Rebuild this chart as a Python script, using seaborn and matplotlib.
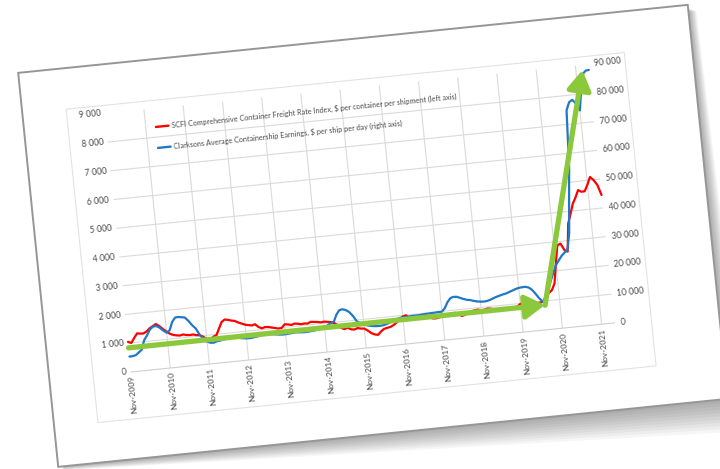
import numpy as np
import pandas as pd
import matplotlib
matplotlib.use("Agg")
import matplotlib.pyplot as plt
import matplotlib.dates as mdates
import seaborn as sns
from matplotlib.transforms import Affine2D
from matplotlib.patches import Polygon, Rectangle
from matplotlib.lines import Line2D
from mpl_toolkits.axisartist import floating_axes
from mpl_toolkits.axisartist.grid_finder import FixedLocator, DictFormatter

# --- values: monthly, Nov-2009 .. Mar-2022 ---
first_month = "2009-11-01"

# SCFI Comprehensive Container Freight Rate Index, $ per container (left axis)
scfi = [
    1050, 1000, 1160, 1310, 1290, 1285, 1340, 1440, 1500, 1565, 1480, 1370,
    1265, 1180, 1125, 1100, 1085, 1110, 1080, 1065, 1075, 1040, 1030, 960,
    870, 830, 925, 970, 1185, 1405, 1480, 1455, 1420, 1395, 1330, 1280,
    1230, 1205, 1180, 1210, 1110, 1045, 1080, 1070, 1040, 1010, 980, 990,
    1105, 1090, 1060, 1095, 1080, 1050, 1065, 1050, 1100, 1085, 1070, 1045,
    1060, 1040, 1020, 975, 900, 790, 730, 770, 700, 680, 720, 690,
    680, 600, 500, 440, 415, 520, 600, 625, 645, 700, 780, 880,
    960, 990, 900, 860, 880, 890, 930, 920, 870, 790, 780, 800,
    830, 820, 850, 880, 905, 850, 770, 800, 860, 900, 920, 935,
    900, 910, 940, 920, 880, 850, 830, 845, 855, 860, 875, 900,
    980, 1010, 1040, 980, 950, 940, 960, 980, 1140, 1260, 1350, 1570,
    2250, 2870, 2920, 2680, 2620, 3580, 3900, 4250, 4450, 4700, 4630, 4640,
    4860, 5110, 4990, 4800, 4450,
]

# Clarksons Average Containership Earnings, $ per ship per day (right axis)
clarksons = [
    5360, 5400, 5650, 6500, 7300, 10500, 12000, 13900, 14800, 15000, 14300, 13200,
    12300, 13000, 15800, 17200, 17300, 17100, 16900, 15600, 14000, 12700, 10300, 8900,
    7800, 7300, 7200, 7600, 7700, 7900, 8100, 8300, 8400, 8200, 7900, 7700,
    7550, 7500, 7600, 7800, 7900, 8200, 8550, 8400, 8100, 7900, 7700, 7600,
    7600, 7700, 7800, 7900, 7800, 7700, 7650, 7700, 7800, 7900, 8100, 8300,
    8700, 9200, 9800, 10300, 12500, 14000, 14200, 13800, 13000, 11500, 9500, 8750,
    8200, 7800, 7500, 7300, 7200, 7200, 7300, 7600, 8000, 8500, 8900, 9200,
    9300, 9300, 9400, 9500, 9500, 9500, 9600, 9700, 9700, 9800, 9800, 9900,
    9900, 11000, 13000, 14300, 14600, 14500, 14000, 13500, 13100, 12900, 12500, 12200,
    12000, 11900, 12000, 12300, 12700, 13100, 13400, 13700, 13900, 14300, 14700, 15100,
    15400, 15500, 15550, 15200, 14300, 12700, 11000, 9800, 11400, 14000, 16900, 19500,
    22000, 23500, 25000, 26000, 26800, 32400, 43800, 55000, 74900, 77600, 78300, 76900,
    74400, 81300, 86900, 87900, 88000,
]

tick_years = list(range(2009, 2022))
tick_labels = [f"Nov-{y}" for y in tick_years]
left_ticks = list(range(0, 9001, 1000))
right_ticks = list(range(0, 90001, 10000))

legend_labels = [
    "SCFI Comprehensive Container Freight Rate Index, $ per container per shipment (left axis)",
    "Clarksons Average Containership Earnings, $ per ship per day (right axis)",
]

# green arrows drawn over the chart (date, value on the left axis)
arrow_flat_dates = ["2009-11-01", "2020-06-15"]
arrow_flat_vals = [840, 860]
arrow_up_dates = ["2020-06-15", "2022-01-01"]
arrow_up_vals = [850, 8820]

RED = "#ff0000"
BLUE = "#1f78c8"
GREEN = "#8cc83c"
TXT = "#4a4a4a"
GRID = "#dadada"

# --- layout: the chart sits on a tilted sheet of paper ---
FIG_W, FIG_H = 720, 469
ANGLE = 5.8          # tilt of the page, degrees
PW, PH = 486, 260    # plot area size in pixels
BL = (131, 97)       # bottom-left corner of plot area (pixels, y up)

sns.set_style("white")
plt.rcParams["font.family"] = ["Lato", "DejaVu Sans"]

dates = pd.date_range(first_month, periods=len(scfi), freq="MS")
x = mdates.date2num(dates)
xmin, xmax = x[0], x[-1]
xticks = list(mdates.date2num(pd.to_datetime([f"{y}-11-01" for y in tick_years])))

fig = plt.figure(figsize=(FIG_W / 100, FIG_H / 100), dpi=100, facecolor="white")

# background: paper sheet with a soft shadow
bg = fig.add_axes([0, 0, 1, 1], zorder=-5)
bg.set_xlim(0, FIG_W)
bg.set_ylim(0, FIG_H)
bg.axis("off")
page_tr = Affine2D().rotate_deg(ANGLE).translate(*BL) + bg.transData
for f in np.linspace(1.0, 0.1, 10):
    shadow = Polygon([(-80, 300), (591 + 8 * f, 306 - 4 * f), (591 + 16 * f, -87 - 34 * f),
                      (-80 + 4 * f, -87 - 4 * f)], closed=True, facecolor="black",
                     edgecolor="none", alpha=0.035, transform=page_tr)
    bg.add_patch(shadow)
bg.add_patch(Rectangle((-82, -87), 673, 396, facecolor="white", edgecolor="#969696",
                       lw=1.4, transform=page_tr))
bg.add_patch(Rectangle((-38, -47), 561, 315, facecolor="none", edgecolor="#e2e2e2",
                       lw=0.8, transform=page_tr))

# rotated plot area: host axes box = bounding box of the tilted rectangle
c, s = np.cos(np.radians(ANGLE)), np.sin(np.radians(ANGLE))
corners = np.array([[0, 0], [PW * c, PW * s], [-PH * s, PH * c],
                    [PW * c - PH * s, PW * s + PH * c]]) + np.array(BL)
lo, hi = corners.min(0), corners.max(0)
cx, cy = (lo + hi) / 2
bw, bh = (hi - lo) * 1.02
rect = [(cx - bw / 2) / FIG_W, (cy - bh / 2) / FIG_H, bw / FIG_W, bh / FIG_H]

tr = Affine2D().translate(-xmin, 0).scale(PW / (xmax - xmin), PH / 9000).rotate_deg(ANGLE)
gh1 = floating_axes.GridHelperCurveLinear(
    tr, extremes=(xmin, xmax, 0, 9000),
    grid_locator1=FixedLocator(xticks),
    tick_formatter1=DictFormatter(dict(zip(xticks, tick_labels))),
    grid_locator2=FixedLocator(left_ticks),
    tick_formatter2=DictFormatter({v: f"{v:,}".replace(",", " ") for v in left_ticks}))
ax = fig.add_axes(rect, axes_class=floating_axes.FloatingAxes, grid_helper=gh1)
ax.patch.set_facecolor("white")
ax.grid(True, color=GRID, linewidth=0.8)
aux = ax.get_aux_axes(tr)

for side in ["left", "right", "top", "bottom"]:
    ax.axis[side].major_ticks.set_visible(False)
    ax.axis[side].line.set_visible(side == "bottom")
ax.axis["bottom"].line.set_color("#cfcfcf")
lt = ax.axis["left"].major_ticklabels
lt.set_fontsize(6.2)
lt.set_color(TXT)
lt.set_pad(3)
bt = ax.axis["bottom"].major_ticklabels
bt.set_fontsize(6.0)
bt.set_color(TXT)
bt.set_rotation(90)
bt.set_ha("right")
bt.set_va("center")
bt.set_pad(0.5)

sns.lineplot(x=x, y=scfi, ax=aux, color=RED, linewidth=1.6, errorbar=None, legend=False)

# legend, drawn in plot-fraction coordinates of the tilted frame
frac = Affine2D().scale(xmax - xmin, 9000).translate(xmin, 0) + aux.transData
ax.add_patch(Rectangle((0.075, 0.80), 0.68, 0.18, facecolor="white", edgecolor="none",
                       transform=frac, zorder=1.5))
for fy, col, lab in zip([0.928, 0.847], [RED, BLUE], legend_labels):
    ax.add_line(Line2D([0.102, 0.128], [fy, fy], color=col, lw=1.7, transform=frac, zorder=3))
    ax.text(0.134, fy, lab, transform=frac, rotation=ANGLE, rotation_mode="anchor",
            ha="left", va="center", fontsize=5.2, color=TXT, zorder=3)

# secondary (right) axis: same tilted frame, 10x scale
tr2 = Affine2D().scale(1, 0.1) + tr
gh2 = floating_axes.GridHelperCurveLinear(
    tr2, extremes=(xmin, xmax, 0, 90000),
    grid_locator1=FixedLocator(xticks),
    tick_formatter1=DictFormatter({}),
    grid_locator2=FixedLocator(right_ticks),
    tick_formatter2=DictFormatter({v: f"{v:,}".replace(",", " ") for v in right_ticks}))
ax2 = fig.add_axes(rect, axes_class=floating_axes.FloatingAxes, grid_helper=gh2)
ax2.patch.set_facecolor("none")
ax2.patch.set_edgecolor("none")
for side in ["left", "top", "bottom"]:
    ax2.axis[side].set_visible(False)
ax2.axis["right"].line.set_visible(False)
ax2.axis["right"].major_ticks.set_visible(False)
rt = ax2.axis["right"].major_ticklabels
rt.set_visible(True)
rt.set_fontsize(6.2)
rt.set_color(TXT)
rt.set_pad(4)
aux2 = ax2.get_aux_axes(tr2)

sns.lineplot(x=x, y=clarksons, ax=aux2, color=BLUE, linewidth=1.6, errorbar=None, legend=False)

# green trend arrows on top
for dts, vals in [(arrow_flat_dates, arrow_flat_vals), (arrow_up_dates, arrow_up_vals)]:
    xs = mdates.date2num(pd.to_datetime(dts))
    aux2.annotate("", xy=(xs[1], vals[1]), xytext=(xs[0], vals[0]),
                  xycoords=aux.transData, textcoords=aux.transData,
                  arrowprops=dict(arrowstyle="-|>,head_length=0.9,head_width=0.55",
                                  color=GREEN, lw=3.8, mutation_scale=13,
                                  shrinkA=0, shrinkB=0))

fig.savefig("out.png", dpi=100, facecolor="white")
